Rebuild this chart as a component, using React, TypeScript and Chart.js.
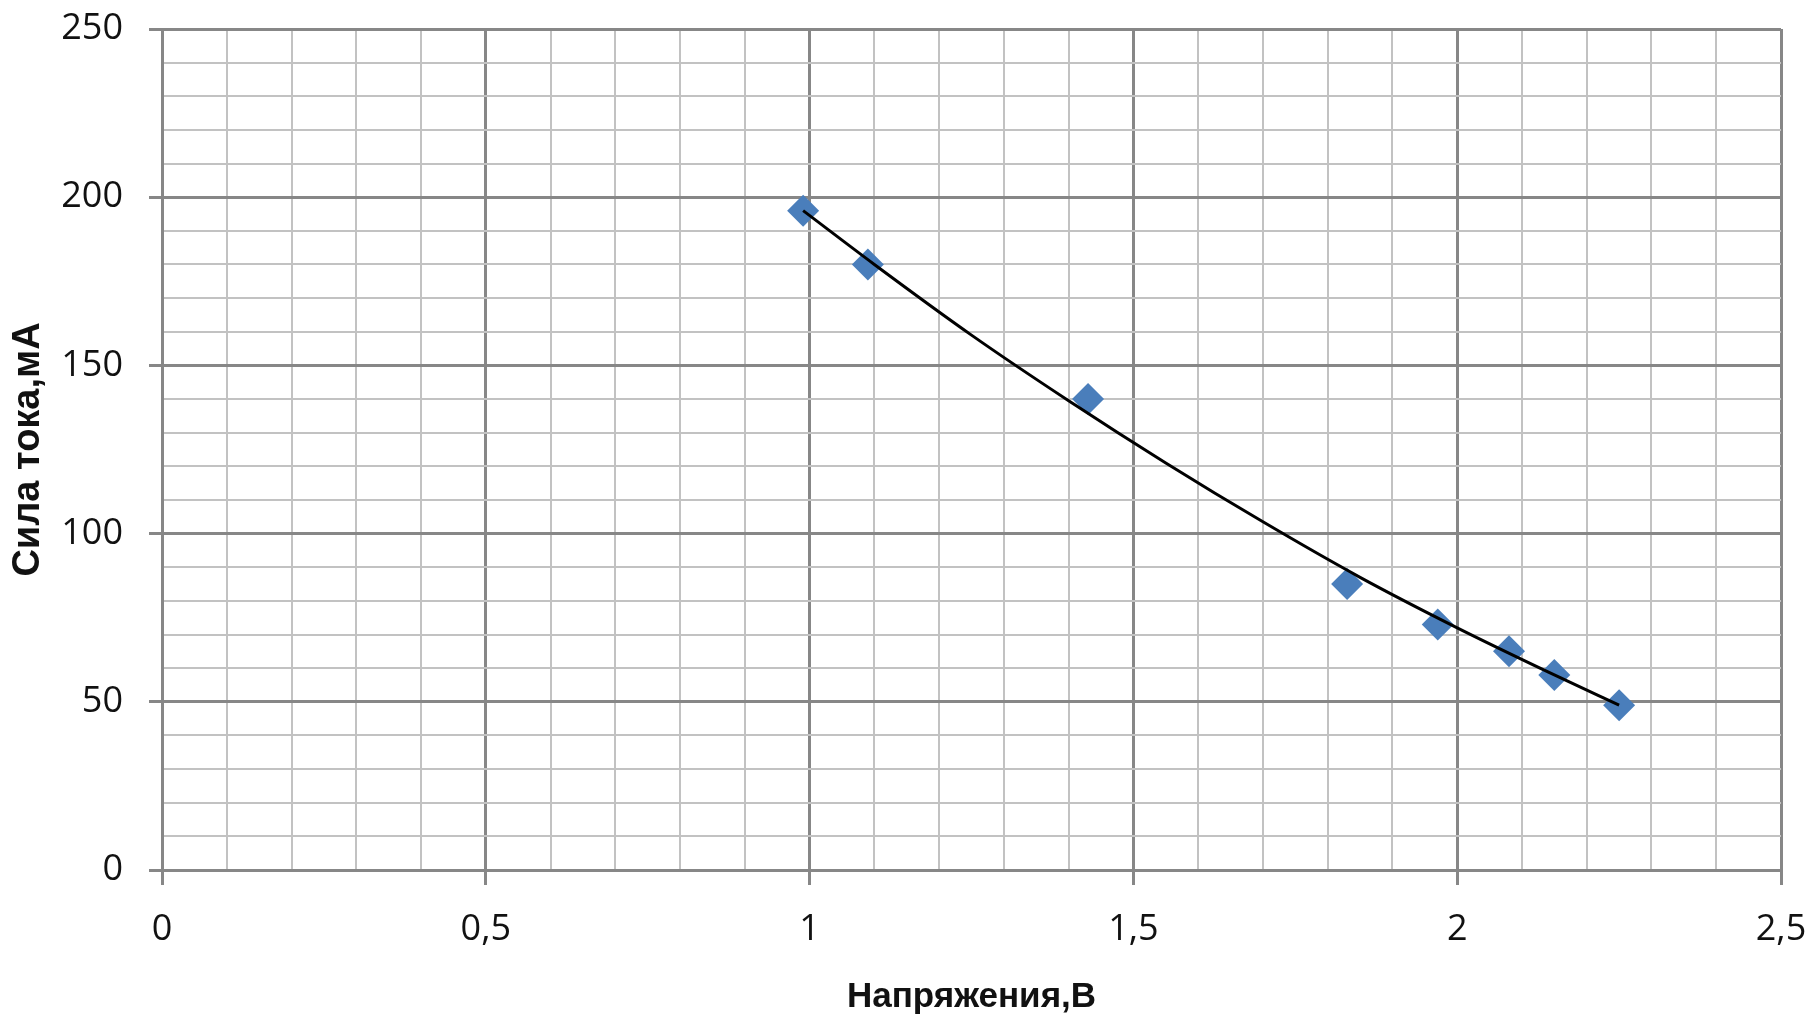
import React, { useEffect, useRef } from "react";
import { Chart, registerables } from "chart.js";

Chart.register(...registerables);

// Measured points (voltage, V ; current, mA)
const voltage = [0.99, 1.09, 1.43, 1.83, 1.97, 2.08, 2.15, 2.25];
const current = [196, 180, 140, 85, 73, 65, 58, 49];

// Trend line
const trendX = [0.99, 1.1, 1.25, 1.4, 1.55, 1.7, 1.85, 2.0, 2.15, 2.25];
const trendY = [196, 180, 159, 139.5, 121, 103.5, 87, 72, 58, 49];

const xTickLabels = ["0", "0,5", "1", "1,5", "2", "2,5"];
const yTickLabels = ["0", "50", "100", "150", "200", "250"];

const xTitle = "Напряжения,В";
const yTitle = "Сила тока,мА";

const MAJOR = "#878787";
const MINOR = "#c2c2c2";

export default function App() {
  const ref = useRef<HTMLCanvasElement>(null);

  useEffect(() => {
    if (!ref.current) return;
    const isMajorX = (v: number) => Math.round(v * 10) % 5 === 0;
    const isMajorY = (v: number) => Math.round(v) % 50 === 0;
    const chart = new Chart(ref.current, {
      type: "scatter",
      data: {
        datasets: [
          {
            label: "trend",
            data: trendX.map((x, i) => ({ x, y: trendY[i] })),
            showLine: true,
            borderColor: "#000000",
            borderWidth: 3,
            pointRadius: 0,
            cubicInterpolationMode: "monotone",
            order: 0,
          } as any,
          {
            label: "data",
            data: voltage.map((x, i) => ({ x, y: current[i] })),
            showLine: false,
            pointStyle: "rectRot",
            pointRadius: 16,
            backgroundColor: "#4a7ebb",
            borderColor: "#4a7ebb",
            borderWidth: 0,
            order: 1,
          },
        ],
      },
      options: {
        responsive: false,
        animation: false,
        layout: { padding: { left: 0, top: 29, right: 31, bottom: 0 } },
        plugins: { legend: { display: false }, tooltip: { enabled: false } },
        scales: {
          x: {
            type: "linear",
            min: 0,
            max: 2.5,
            afterFit: (s: any) => {
              s.height = 154;
              s.paddingLeft = 0;
              s.paddingRight = 0;
              s.paddingTop = 0;
              s.paddingBottom = 0;
            },
            ticks: {
              stepSize: 0.1,
              autoSkip: false,
              maxRotation: 0,
              padding: 23,
              color: "#111",
              font: { family: "'Open Sans'", size: 36 },
              callback: (v: any) => {
                const k = Math.round(Number(v) * 10);
                return k % 5 === 0 ? xTickLabels[k / 5] : "";
              },
            },
            grid: {
              color: (c: any) => (isMajorX(c.tick.value) ? MAJOR : MINOR),
              lineWidth: (c: any) => (isMajorX(c.tick.value) ? 3 : 2),
              tickColor: (c: any) => (isMajorX(c.tick.value) ? MAJOR : "rgba(0,0,0,0)"),
              tickWidth: 3,
              tickLength: 15,
              drawTicks: true,
            },
            border: { display: true, color: MAJOR, width: 3 },
            title: {
              display: true,
              text: xTitle,
              color: "#111",
              font: { family: "'Liberation Sans'", size: 35, weight: "bold" },
              padding: { top: 0, bottom: 6 },
            },
          },
          y: {
            type: "linear",
            min: 0,
            max: 250,
            afterFit: (s: any) => {
              s.width = 162;
              s.paddingLeft = 0;
              s.paddingRight = 0;
              s.paddingTop = 0;
              s.paddingBottom = 0;
            },
            ticks: {
              stepSize: 10,
              autoSkip: false,
              padding: 26,
              color: "#111",
              font: { family: "'Open Sans'", size: 36 },
              callback: (v: any) => {
                const n = Math.round(Number(v));
                return n % 50 === 0 ? yTickLabels[n / 50] : "";
              },
            },
            grid: {
              color: (c: any) => (isMajorY(c.tick.value) ? MAJOR : MINOR),
              lineWidth: (c: any) => (isMajorY(c.tick.value) ? 3 : 2),
              tickColor: (c: any) => (isMajorY(c.tick.value) ? MAJOR : "rgba(0,0,0,0)"),
              tickWidth: 3,
              tickLength: 13,
              drawTicks: true,
            },
            border: { display: true, color: MAJOR, width: 3 },
            title: {
              display: true,
              text: yTitle,
              color: "#111",
              font: { family: "'Liberation Sans'", size: 38, weight: "bold" },
              padding: { top: 6, bottom: 0 },
            },
          },
        },
      },
    });
    return () => chart.destroy();
  }, []);

  return (
    <div style={{ position: "absolute", left: 0, top: 0, width: 1812, height: 1024, background: "#fff" }}>
      <canvas ref={ref} width={1812} height={1024} style={{ display: "block", width: 1812, height: 1024 }} />
    </div>
  );
}
